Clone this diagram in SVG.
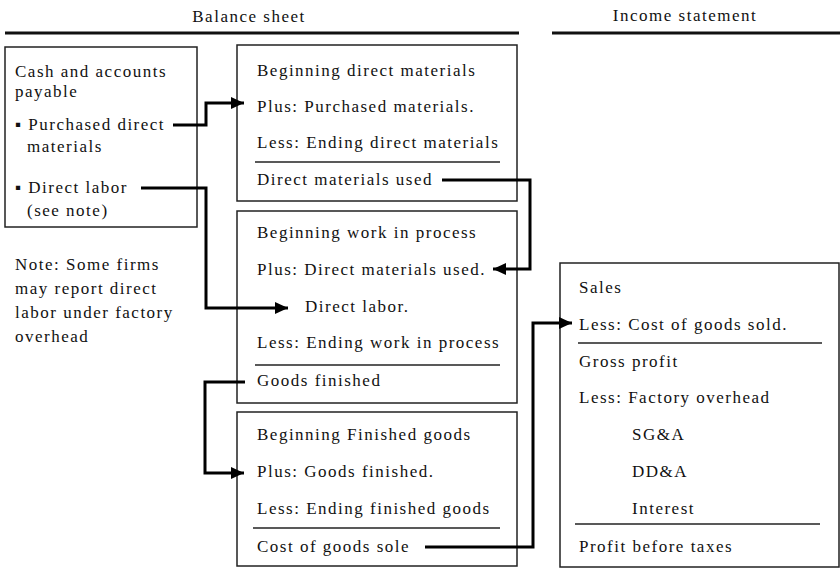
<svg xmlns="http://www.w3.org/2000/svg" width="840" height="568" viewBox="0 0 840 568">
  <style>
    text { font-family: "Liberation Serif", "Times New Roman", serif; font-size: 17px; letter-spacing: 1.5px; fill: #111; }
    .box { fill: #fff; stroke: #222; stroke-width: 1.5; }
    .rule { stroke: #222; stroke-width: 1.5; }
    .head { stroke: #111; stroke-width: 3; }
    .conn { fill: none; stroke: #000; stroke-width: 3; marker-end: url(#arrow); }
    .conn-plain { fill: none; stroke: #000; stroke-width: 3; }
  </style>
  <defs>
    <marker id="arrow" markerUnits="userSpaceOnUse" markerWidth="14" markerHeight="14" refX="13" refY="7" orient="auto">
      <path d="M0,1 L13,7 L0,13 z" fill="#000"/>
    </marker>
  </defs>

  <rect width="840" height="568" fill="#fff"/>

  <!-- column headings -->
  <g id="heading-balance">
    <text x="249" y="22" text-anchor="middle">Balance sheet</text>
    <line class="head" x1="5" y1="33" x2="519" y2="33"/>
  </g>
  <g id="heading-income">
    <text x="685" y="21" text-anchor="middle">Income statement</text>
    <line class="head" x1="552" y1="33" x2="840" y2="33"/>
  </g>

  <!-- cash and accounts payable -->
  <g id="cash">
    <rect class="box" x="5" y="47" width="192" height="180"/>
    <text x="15" y="77">Cash and accounts</text>
    <text x="15" y="97">payable</text>
    <text x="15" y="130">▪ Purchased direct</text>
    <text x="27" y="152">materials</text>
    <text x="15" y="193">▪ Direct labor</text>
    <text x="27" y="216">(see note)</text>
  </g>

  <g id="note">
    <text x="15" y="270">Note: Some firms</text>
    <text x="15" y="294">may report direct</text>
    <text x="15" y="318">labor under factory</text>
    <text x="15" y="342">overhead</text>
  </g>

  <!-- direct materials -->
  <g id="direct-materials">
    <rect class="box" x="237" y="45" width="280" height="156"/>
    <text x="257" y="76">Beginning direct materials</text>
    <text x="257" y="112">Plus: Purchased materials.</text>
    <text x="257" y="148">Less: Ending direct materials</text>
    <line class="rule" x1="255" y1="162" x2="500" y2="162"/>
    <text x="257" y="185">Direct materials used</text>
  </g>

  <!-- work in process -->
  <g id="work-in-process">
    <rect class="box" x="237" y="211" width="280" height="192"/>
    <text x="257" y="238">Beginning work in process</text>
    <text x="257" y="275">Plus: Direct materials used.</text>
    <text x="305" y="312">Direct labor.</text>
    <text x="257" y="348">Less: Ending work in process</text>
    <line class="rule" x1="255" y1="365" x2="500" y2="365"/>
    <text x="257" y="386">Goods finished</text>
  </g>

  <!-- finished goods -->
  <g id="finished-goods">
    <rect class="box" x="237" y="412" width="280" height="154"/>
    <text x="257" y="440">Beginning Finished goods</text>
    <text x="257" y="477">Plus: Goods finished.</text>
    <text x="257" y="514">Less: Ending finished goods</text>
    <line class="rule" x1="253" y1="528" x2="500" y2="528"/>
    <text x="257" y="552">Cost of goods sole</text>
  </g>

  <!-- income statement -->
  <g id="income-statement">
    <rect class="box" x="560" y="263" width="279" height="304"/>
    <text x="579" y="293">Sales</text>
    <text x="579" y="330">Less: Cost of goods sold.</text>
    <line class="rule" x1="578" y1="343" x2="822" y2="343"/>
    <text x="579" y="367">Gross profit</text>
    <text x="579" y="403">Less: Factory overhead</text>
    <text x="632" y="440">SG&amp;A</text>
    <text x="632" y="477">DD&amp;A</text>
    <text x="632" y="514">Interest</text>
    <line class="rule" x1="575" y1="524" x2="820" y2="524"/>
    <text x="579" y="552">Profit before taxes</text>
  </g>

  <!-- flows between accounts -->
  <g id="connectors">
    <path class="conn" d="M173,125 H206 V103 H244"/>
    <path class="conn" d="M141,188 H206 V308 H288"/>
    <path class="conn" d="M442,180 H530 V269 H493"/>
    <path class="conn" d="M245,382 H205 V473 H244"/>
    <path class="conn" d="M425,547 H533 V323 H572"/>
  </g>
</svg>
